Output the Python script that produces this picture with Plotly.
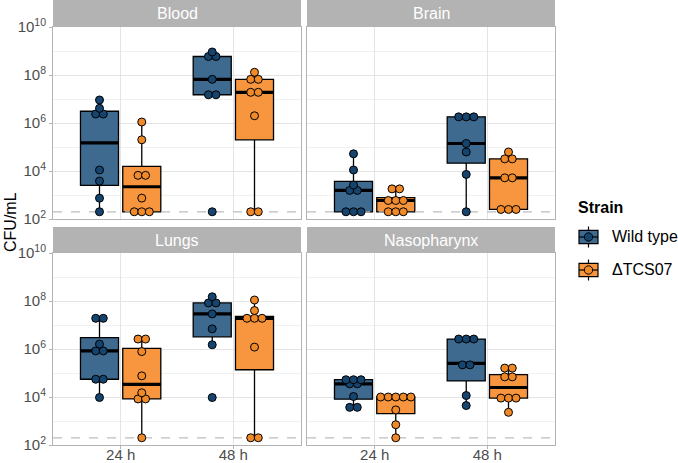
import numpy as np
import plotly.graph_objects as go
from plotly.subplots import make_subplots

# CFU/mL per mouse
organs = ["Blood", "Brain", "Lungs", "Nasopharynx"]
timepoints = ["24 h", "48 h"]
strains = ["Wild type", "ΔTCS07"]
LOD = 200  # detection limit (dashed line)

blood_wt_24 = [200, 740, 3800, 11000, 2.0e6, 2.8e6, 4.1e6, 9.1e6]
blood_mut_24 = [200, 200, 200, 740, 6600, 6600, 2.0e5, 1.1e6]
blood_wt_48 = [200, 1.5e7, 1.5e7, 6.6e7, 5.9e8, 5.9e8, 9.1e8]
blood_mut_48 = [200, 200, 2.0e6, 1.9e7, 1.9e7, 6.6e7, 6.6e7, 1.3e8]

brain_wt_24 = [200, 200, 200, 1550, 1550, 2600, 11000, 52000]
brain_mut_24 = [200, 200, 200, 590, 590, 590, 1800, 1800]
brain_wt_48 = [200, 7200, 62000, 1.4e5, 1.8e6, 1.8e6, 1.8e6]
brain_mut_48 = [250, 250, 250, 5200, 5200, 32000, 32000, 62000]

lungs_wt_24 = [9500, 55000, 55000, 8.3e5, 8.3e5, 1.6e6, 1.9e7, 1.9e7]
lungs_mut_24 = [200, 8300, 8300, 15000, 76000, 7.8e5, 2.6e6, 2.6e6]
lungs_wt_48 = [9500, 1.5e6, 6.9e6, 2.9e7, 8.3e7, 8.3e7, 1.5e8]
lungs_mut_48 = [200, 200, 1.2e6, 1.9e7, 1.9e7, 1.9e7, 4.0e7, 1.1e8]

naso_wt_24 = [3700, 3700, 10500, 29500, 42500, 52500, 52500, 52500]
naso_mut_24 = [200, 700, 2900, 10000, 10000, 10000, 10000, 10000]
naso_wt_48 = [4400, 11500, 1.9e5, 2.5e5, 2.6e6, 2.6e6, 2.6e6]
naso_mut_48 = [2300, 9000, 9000, 9000, 69000, 69000, 1.6e5, 1.6e5]

cfu = {
    "Blood": [[blood_wt_24, blood_mut_24], [blood_wt_48, blood_mut_48]],
    "Brain": [[brain_wt_24, brain_mut_24], [brain_wt_48, brain_mut_48]],
    "Lungs": [[lungs_wt_24, lungs_mut_24], [lungs_wt_48, lungs_mut_48]],
    "Nasopharynx": [[naso_wt_24, naso_mut_24], [naso_wt_48, naso_mut_48]],
}

box_fill = ["#3D6A8E", "#F7963F"]
dot_fill = ["#15446E", "#F08A28"]
FONT = "Liberation Sans, Arial, sans-serif"

DODGE = 0.1875
BOX_W = 0.3375
DOT_STEP = 0.067


def box_stats(v):
    q1, med, q3 = np.percentile(v, [25, 50, 75])
    iqr = q3 - q1
    lo = v[v >= q1 - 1.5 * iqr].min()
    hi = v[v <= q3 + 1.5 * iqr].max()
    return q1, med, q3, lo, hi


def dot_rows(v, tol=0.17):
    # group close values into one row, like a centred dot plot
    v = np.sort(v)
    rows, start = [], 0
    for i in range(1, len(v) + 1):
        if i == len(v) or v[i] - v[start] > tol:
            grp = v[start:i]
            rows.append(((grp[0] + grp[-1]) / 2, len(grp)))
            start = i
    return rows


fig = make_subplots(rows=2, cols=2)

for k, organ in enumerate(organs):
    r, c = k // 2 + 1, k % 2 + 1
    # detection limit, drawn as a dashed line across the panel
    fig.add_trace(go.Scatter(
        x=[0.4, 2.6], y=[np.log10(LOD)] * 2, mode="lines",
        line=dict(color="#BDBDBD", width=1.2, dash="dash"),
        showlegend=False, hoverinfo="skip"), row=r, col=c)
    for t in range(2):
        for s in range(2):
            logv = np.log10(np.array(cfu[organ][t][s], dtype=float))
            center = t + 1 + (2 * s - 1) * DODGE
            q1, med, q3, lo, hi = box_stats(logv)
            fig.add_trace(go.Box(
                x=[center], q1=[q1], median=[med], q3=[q3],
                lowerfence=[lo], upperfence=[hi],
                width=BOX_W, whiskerwidth=0, boxpoints=False,
                fillcolor=box_fill[s], line=dict(color="black", width=1.3),
                showlegend=False, hoverinfo="skip"), row=r, col=c)
            # thicker median bar
            fig.add_trace(go.Scatter(
                x=[center - BOX_W / 2, center + BOX_W / 2], y=[med, med],
                mode="lines", line=dict(color="black", width=3.2),
                showlegend=False, hoverinfo="skip"), row=r, col=c)
            xs, ys = [], []
            for y, n in dot_rows(logv):
                for j in range(n):
                    xs.append(center + (j - (n - 1) / 2) * DOT_STEP)
                    ys.append(y)
            fig.add_trace(go.Scatter(
                x=xs, y=ys, mode="markers",
                marker=dict(size=8, color=dot_fill[s], line=dict(color="black", width=1)),
                showlegend=False, hoverinfo="skip"), row=r, col=c)

# layout geometry (pixels)
W, H = 678, 463
L, R, T, B = 53, 555, 0, 445
pw, ph = R - L, B - T


def px(x):
    return (x - L) / pw


def py(y):
    return (B - y) / ph


xdom = [[px(53), px(301)], [px(307), px(555)]]
ydom = [[py(219), py(27)], [py(445), py(253)]]
strip_y = [[py(27), py(0)], [py(253), py(227)]]

exps = [2, 4, 6, 8, 10]
for k, organ in enumerate(organs):
    r, c = k // 2, k % 2
    idx = k + 1
    xa = "xaxis" if idx == 1 else f"xaxis{idx}"
    ya = "yaxis" if idx == 1 else f"yaxis{idx}"
    fig.layout[xa].update(
        domain=xdom[c], range=[0.4, 2.6], tickvals=[1, 2], ticktext=timepoints,
        showticklabels=(r == 1), ticks="outside" if r == 1 else "", ticklen=3,
        ticklabelstandoff=-7,
        tickcolor="#B3B3B3", showgrid=True, gridcolor="#E4E4E4", gridwidth=1,
        showline=True, mirror=True, linecolor="#B3B3B3", linewidth=1,
        zeroline=False, automargin=False,
        tickfont=dict(size=15, color="#4D4D4D", family=FONT))
    fig.layout[ya].update(
        domain=ydom[r], range=[2, 10], tickvals=exps,
        ticktext=[f"10<sup>{e}</sup>" for e in exps],
        showticklabels=(c == 0), ticks="outside" if c == 0 else "", ticklen=3,
        tickcolor="#B3B3B3", showgrid=True, gridcolor="#E4E4E4", gridwidth=1,
        minor=dict(dtick=1, tick0=0, showgrid=True, gridcolor="#F1F1F1", gridwidth=1),
        showline=True, mirror=True, linecolor="#B3B3B3", linewidth=1,
        zeroline=False, automargin=False,
        tickfont=dict(size=15, color="#4D4D4D", family=FONT))
    fig.add_shape(type="rect", xref="paper", yref="paper",
                  x0=xdom[c][0], x1=xdom[c][1], y0=strip_y[r][0], y1=strip_y[r][1],
                  fillcolor="#B3B3B3", line=dict(width=0))
    fig.add_annotation(text=organ, xref="paper", yref="paper", showarrow=False,
                       x=sum(xdom[c]) / 2, y=sum(strip_y[r]) / 2,
                       xanchor="center", yanchor="middle",
                       font=dict(size=16, color="white", family=FONT))

# y axis title
fig.add_annotation(text="CFU/mL", xref="paper", yref="paper", showarrow=False,
                   x=px(11), y=py(222), textangle=-90, xanchor="center", yanchor="middle",
                   font=dict(size=16, color="black", family=FONT))

# legend (ggplot style box key with a point)
fig.add_annotation(text="<b>Strain</b>", xref="paper", yref="paper", showarrow=False,
                   x=px(576), y=py(207), xanchor="left", yanchor="middle",
                   font=dict(size=16, color="black", family=FONT))
key_cy = [237, 270]
for s, name in enumerate(strains):
    cy = key_cy[s]
    cx = 588.5
    fig.add_shape(type="line", xref="paper", yref="paper",
                  x0=px(cx), x1=px(cx), y0=py(cy - 10.5), y1=py(cy + 10.5),
                  line=dict(color="black", width=1.2))
    fig.add_shape(type="rect", xref="paper", yref="paper",
                  x0=px(cx - 9.5), x1=px(cx + 9.5), y0=py(cy + 6.7), y1=py(cy - 6.7),
                  fillcolor=box_fill[s], line=dict(color="black", width=1.2))
    fig.add_shape(type="line", xref="paper", yref="paper",
                  x0=px(cx - 9.5), x1=px(cx + 9.5), y0=py(cy), y1=py(cy),
                  line=dict(color="black", width=1.2))
    fig.add_shape(type="circle", xref="paper", yref="paper",
                  x0=px(cx - 4.2), x1=px(cx + 4.2), y0=py(cy + 4.2), y1=py(cy - 4.2),
                  fillcolor=dot_fill[s], line=dict(color="black", width=1))
    fig.add_annotation(text=name, xref="paper", yref="paper", showarrow=False,
                       x=px(610), y=py(cy), xanchor="left", yanchor="middle",
                       font=dict(size=16, color="black", family=FONT))

fig.update_layout(
    width=W, height=H, autosize=False,
    margin=dict(l=L, r=W - R, t=T, b=H - B, autoexpand=False),
    paper_bgcolor="white", plot_bgcolor="white",
    font=dict(family=FONT), showlegend=False, boxmode="overlay",
)

# the page's default body margin would shift the figure by 8 px
fig.write_html("out.html", config={"displayModeBar": False},
               post_script="document.body.style.margin = '0';")
